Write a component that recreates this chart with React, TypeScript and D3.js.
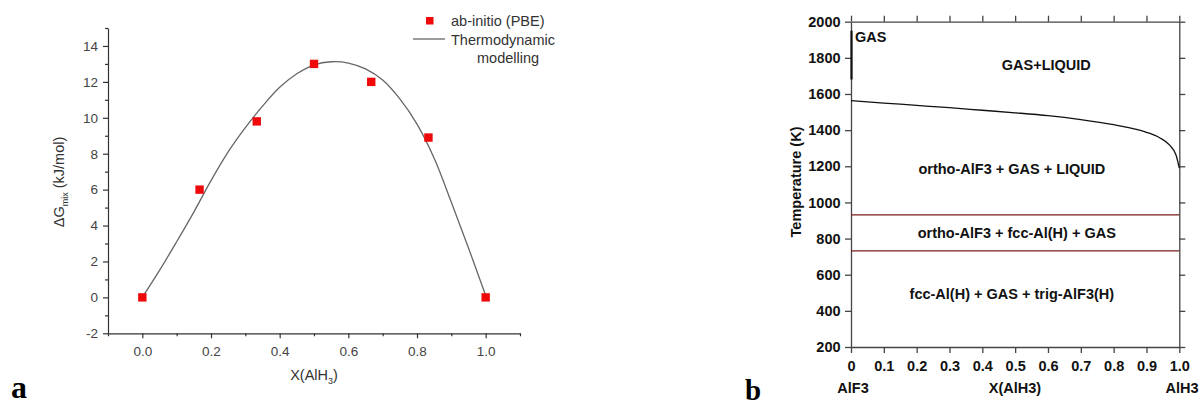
import React, { useEffect, useRef } from 'react';
import * as d3 from 'd3';

// panel a: ab-initio points and thermodynamic modelling curve
const abX = [0, 0.1667, 0.3333, 0.5, 0.6667, 0.8333, 1.0];
const abG = [0, 6.0, 9.8, 13.0, 12.0, 8.9, 0];

const modelX = [0, 0.05, 0.1, 0.15, 0.2, 0.25, 0.3, 0.35, 0.4, 0.45, 0.5, 0.55, 0.6, 0.65, 0.7, 0.75, 0.8, 0.85, 0.9, 0.95, 1.0];
const modelG = [0.0, 1.5, 3.1, 4.75, 6.5, 8.1, 9.45, 10.65, 11.7, 12.45, 12.95, 13.12, 13.05, 12.72, 12.1, 11.05, 9.65, 7.75, 5.3, 2.75, 0.1];

const aXTicks = [0, 0.2, 0.4, 0.6, 0.8, 1.0];
const aXMinor = [-0.1, 0.1, 0.3, 0.5, 0.7, 0.9, 1.1];
const aYTicks = [-2, 0, 2, 4, 6, 8, 10, 12, 14];
const aYMinor = [-1, 1, 3, 5, 7, 9, 11, 13, 15];

// panel b: phase diagram
const liqX = [0, 0.1, 0.2, 0.3, 0.4, 0.5, 0.6, 0.7, 0.8, 0.85, 0.9, 0.94, 0.97, 0.99, 1.0];
const liqT = [1563, 1550, 1537, 1524, 1510, 1496, 1480, 1458, 1430, 1412, 1388, 1358, 1318, 1262, 1190];
const gasLineT = [1950, 1680];
const threePhaseT = [931, 732];

const bXTicks = [0, 0.1, 0.2, 0.3, 0.4, 0.5, 0.6, 0.7, 0.8, 0.9, 1.0];
const bYTicks = [200, 400, 600, 800, 1000, 1200, 1400, 1600, 1800, 2000];

const regions = [
  { label: 'GAS', x: 0.012, T: 1885, anchor: 'start' },
  { label: 'GAS+LIQUID', x: 0.595, T: 1730, anchor: 'middle' },
  { label: 'ortho-AlF3 + GAS + LIQUID', x: 0.49, T: 1160, anchor: 'middle' },
  { label: 'ortho-AlF3 + fcc-Al(H) + GAS', x: 0.505, T: 805, anchor: 'middle' },
  { label: 'fcc-Al(H) + GAS + trig-AlF3(H)', x: 0.49, T: 465, anchor: 'middle' },
];

const SANS = '"Liberation Sans", Arial, sans-serif';
const SERIF = '"Liberation Serif", "Times New Roman", serif';

const App = () => {
  const ref = useRef<SVGSVGElement>(null);

  useEffect(() => {
    const svg = d3.select(ref.current);
    svg.selectAll('*').remove();

    // ---------- panel a ----------
    const xa = d3.scaleLinear().domain([-0.1, 1.1]).range([108, 520]);
    const ya = d3.scaleLinear().domain([-2, 15]).range([333.3, 28]);
    const axisColor = '#333';

    const ga = svg.append('g').style('font-family', SANS);

    const xAxis = ga.append('g').attr('transform', `translate(0,${ya(-2)})`)
      .call(d3.axisBottom(xa).tickValues(aXTicks).tickSize(5).tickSizeOuter(0).tickFormat(d3.format('.1f')));
    ga.append('g').attr('transform', `translate(0,${ya(-2)})`)
      .call(d3.axisBottom(xa).tickValues(aXMinor).tickSize(3).tickSizeOuter(0).tickFormat(() => ''))
      .select('.domain').remove();
    const yAxis = ga.append('g').attr('transform', `translate(${xa(-0.1)},0)`)
      .call(d3.axisLeft(ya).tickValues(aYTicks).tickSize(5).tickSizeOuter(0).tickFormat(d => String(d)));
    ga.append('g').attr('transform', `translate(${xa(-0.1)},0)`)
      .call(d3.axisLeft(ya).tickValues(aYMinor).tickSize(3).tickSizeOuter(0).tickFormat(() => ''))
      .select('.domain').remove();

    ga.selectAll('g').attr('font-family', SANS);
    ga.selectAll('.domain, .tick line').attr('stroke', axisColor).attr('stroke-width', 1.2);
    xAxis.selectAll('text').attr('font-size', 13.5).attr('fill', '#444').attr('dy', '1.1em');
    yAxis.selectAll('text').attr('font-size', 13.5).attr('fill', '#444').attr('dx', '-0.15em');

    // model curve
    const curvePts = modelX.map((x, i) => [x, modelG[i]] as [number, number]);
    ga.append('path')
      .datum(curvePts)
      .attr('fill', 'none')
      .attr('stroke', '#666')
      .attr('stroke-width', 1.3)
      .attr('d', d3.line<[number, number]>().x(d => xa(d[0])).y(d => ya(d[1])).curve(d3.curveCatmullRom.alpha(0.5)));

    // ab-initio squares
    ga.selectAll('rect.pt')
      .data(abX.map((x, i) => [x, abG[i]]))
      .enter().append('rect')
      .attr('x', d => xa(d[0]) - 4.2)
      .attr('y', d => ya(d[1]) - 4.2)
      .attr('width', 8.4)
      .attr('height', 8.4)
      .attr('fill', '#ee0a0a');

    // axis titles
    ga.append('text')
      .attr('x', 314).attr('y', 380)
      .attr('text-anchor', 'middle').attr('font-size', 14.5).attr('fill', '#333')
      .call(t => {
        t.append('tspan').text('X(AlH');
        t.append('tspan').attr('font-size', 9).attr('dy', 4).text('3');
        t.append('tspan').attr('dy', -4).text(')');
      });
    ga.append('text')
      .attr('transform', 'translate(64,182) rotate(-90)')
      .attr('text-anchor', 'middle').attr('font-size', 14.5).attr('fill', '#333')
      .call(t => {
        t.append('tspan').text('ΔG');
        t.append('tspan').attr('font-size', 9).attr('dy', 4).text('mix');
        t.append('tspan').attr('dy', -4).text(' (kJ/mol)');
      });

    // legend
    ga.append('rect').attr('x', 426).attr('y', 17).attr('width', 7.5).attr('height', 7.5).attr('fill', '#ee0a0a');
    ga.append('line').attr('x1', 413).attr('x2', 445).attr('y1', 39).attr('y2', 39)
      .attr('stroke', '#666').attr('stroke-width', 1.3);
    ga.append('text').attr('x', 451).attr('y', 26).attr('font-size', 14.5).attr('fill', '#333').text('ab-initio (PBE)');
    ga.append('text').attr('x', 451).attr('y', 45).attr('font-size', 14.5).attr('fill', '#333').text('Thermodynamic');
    ga.append('text').attr('x', 477).attr('y', 63).attr('font-size', 14.5).attr('fill', '#333').text('modelling');

    svg.append('text').attr('x', 11).attr('y', 398)
      .attr('font-family', SERIF)
      .attr('font-weight', 'bold').attr('font-size', 32).attr('fill', '#000').text('a');

    // ---------- panel b ----------
    const xb = d3.scaleLinear().domain([0, 1]).range([851, 1179.3]);
    const yb = d3.scaleLinear().domain([200, 2000]).range([347, 21.7]);
    const gb = svg.append('g').style('font-family', SANS);

    const bx = gb.append('g').attr('transform', `translate(0,${yb(200)})`)
      .call(d3.axisBottom(xb).tickValues(bXTicks).tickSize(6).tickSizeOuter(0)
        .tickFormat(d => (+d === 0 ? '0' : d3.format('.1f')(+d))));
    gb.append('g').attr('transform', `translate(0,${yb(2000)})`)
      .call(d3.axisTop(xb).tickValues(bXTicks).tickSize(6).tickSizeOuter(0).tickFormat(() => ''));
    const by = gb.append('g').attr('transform', `translate(${xb(0)},0)`)
      .call(d3.axisLeft(yb).tickValues(bYTicks).tickSize(6).tickSizeOuter(0).tickFormat(d => String(d)));
    gb.append('g').attr('transform', `translate(${xb(1)},0)`)
      .call(d3.axisRight(yb).tickValues(bYTicks).tickSize(6).tickSizeOuter(0).tickFormat(() => ''));

    gb.selectAll('g').attr('font-family', SANS);
    gb.selectAll('.domain, .tick line').attr('stroke', '#444').attr('stroke-width', 1.3);
    bx.selectAll('text').attr('font-size', 14.5).attr('font-weight', 'bold').attr('fill', '#111').attr('dy', '1.05em');
    by.selectAll('text').attr('font-size', 14.5).attr('font-weight', 'bold').attr('fill', '#111').attr('dx', '-0.1em');

    // three-phase horizontal lines
    gb.selectAll('line.tp')
      .data(threePhaseT)
      .enter().append('line')
      .attr('x1', xb(0)).attr('x2', xb(1))
      .attr('y1', d => yb(d)).attr('y2', d => yb(d))
      .attr('stroke', '#7a1c1c').attr('stroke-width', 1.3);

    // liquidus
    gb.append('path')
      .datum(liqX.map((x, i) => [x, liqT[i]] as [number, number]))
      .attr('fill', 'none').attr('stroke', '#111').attr('stroke-width', 1.3)
      .attr('d', d3.line<[number, number]>().x(d => xb(d[0])).y(d => yb(d[1])).curve(d3.curveMonotoneX));

    // gas boundary at pure AlF3
    gb.append('line')
      .attr('x1', xb(0) + 0.5).attr('x2', xb(0) + 0.5)
      .attr('y1', yb(gasLineT[0])).attr('y2', yb(gasLineT[1]))
      .attr('stroke', '#111').attr('stroke-width', 2.2);

    gb.selectAll('text.region')
      .data(regions)
      .enter().append('text')
      .attr('x', d => xb(d.x)).attr('y', d => yb(d.T))
      .attr('text-anchor', d => d.anchor)
      .attr('font-size', 14.5).attr('font-weight', 'bold').attr('fill', '#111')
      .text(d => d.label);

    gb.append('text')
      .attr('transform', 'translate(801,182) rotate(-90)')
      .attr('text-anchor', 'middle').attr('font-size', 14.5).attr('font-weight', 'bold').attr('fill', '#111')
      .text('Temperature (K)');
    gb.append('text').attr('x', 1015).attr('y', 393).attr('text-anchor', 'middle')
      .attr('font-size', 14.5).attr('font-weight', 'bold').attr('fill', '#111').text('X(AlH3)');
    gb.append('text').attr('x', 853).attr('y', 393).attr('text-anchor', 'middle')
      .attr('font-size', 14.5).attr('font-weight', 'bold').attr('fill', '#111').text('AlF3');
    gb.append('text').attr('x', 1182).attr('y', 393).attr('text-anchor', 'middle')
      .attr('font-size', 14.5).attr('font-weight', 'bold').attr('fill', '#111').text('AlH3');

    svg.append('text').attr('x', 745).attr('y', 400)
      .attr('font-family', SERIF)
      .attr('font-weight', 'bold').attr('font-size', 29).attr('fill', '#000').text('b');
  }, []);

  return (
    <svg ref={ref} width={1200} height={405}
      style={{ position: 'absolute', left: 0, top: 0, background: '#fff' }} />
  );
};

export default App;
